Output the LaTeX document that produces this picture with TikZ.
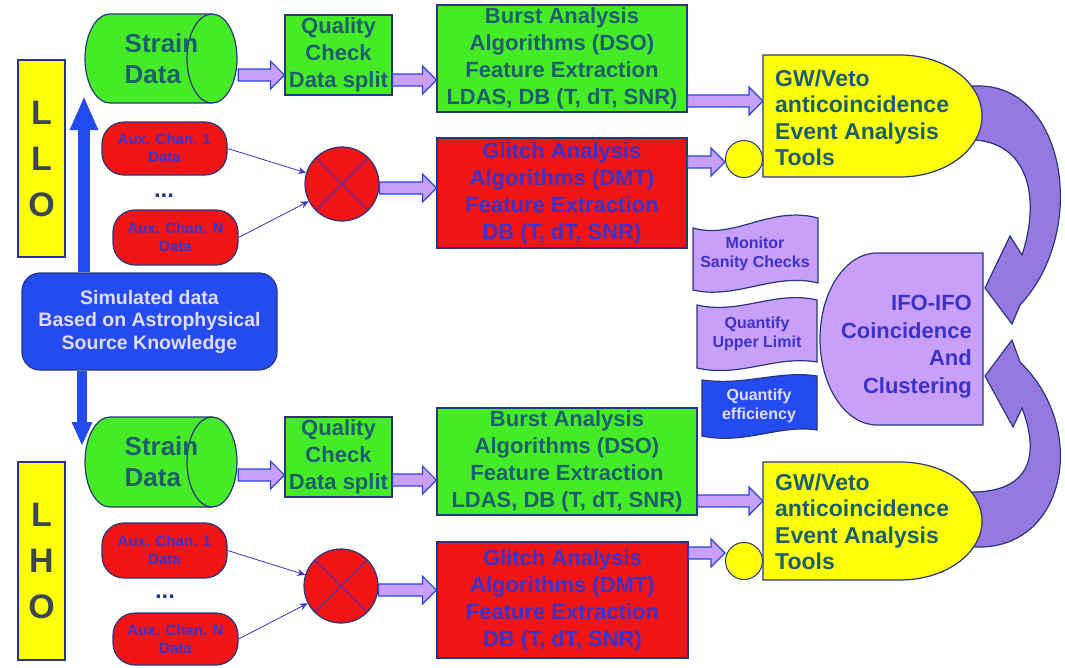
\documentclass[tikz,border=0pt]{standalone}
\usepackage{fontspec}
\setmainfont{Liberation Sans}
\usetikzlibrary{arrows.meta,calc}
\definecolor{limegreen}{RGB}{70,235,40}
\definecolor{brightred}{RGB}{240,20,20}
\definecolor{lemon}{RGB}{255,255,10}
\definecolor{lav}{RGB}{200,160,250}
\definecolor{curvepurple}{RGB}{150,120,225}
\definecolor{sblue}{RGB}{35,75,240}
\definecolor{edgeblue}{RGB}{40,55,125}
\definecolor{arrowblue}{RGB}{40,70,220}
\definecolor{tealtext}{RGB}{30,95,110}
\definecolor{deepblue}{RGB}{60,50,200}
\definecolor{slate}{RGB}{60,70,80}
\definecolor{palelav}{RGB}{225,220,255}
\tikzset{
  box/.style={draw=edgeblue, line width=1.2pt, rectangle, inner sep=0pt, align=center,
    font=\bfseries\fontsize{22}{27}\selectfont},
  greenbox/.style={box, fill=limegreen, text=tealtext},
  redbox/.style={box, fill=brightred, text=deepblue},
  sitebox/.style={box, fill=lemon, text=slate, font=\bfseries\fontsize{34}{46}\selectfont},
  cylbody/.style={draw=edgeblue, line width=1.2pt, fill=limegreen},
  cyltext/.style={inner sep=0pt, align=left, text=tealtext, font=\bfseries\fontsize{26}{31}\selectfont},
  auxoval/.style={draw=edgeblue, line width=1.2pt, fill=brightred, rounded corners=22pt,
    minimum width=125pt, text=deepblue, align=center, font=\bfseries\fontsize{15}{18}\selectfont},
  sumnode/.style={circle, draw=edgeblue, line width=1.2pt, fill=brightred, minimum size=74pt,
    path picture={\draw[deepblue, line width=0.8pt]
      (path picture bounding box.north west) -- (path picture bounding box.south east)
      (path picture bounding box.north east) -- (path picture bounding box.south west);}},
  dotnode/.style={circle, draw=edgeblue, line width=1pt, fill=lemon, minimum size=37pt, inner sep=0pt},
  gwshape/.style={draw=edgeblue, line width=1.2pt, fill=lemon},
  gwtext/.style={inner xsep=12pt, inner ysep=0pt, align=left, text=tealtext,
    font=\bfseries\fontsize{23}{26.5}\selectfont},
  simbox/.style={draw=edgeblue, line width=1.2pt, fill=sblue, rounded corners=18pt,
    minimum width=255pt, minimum height=97pt, align=center, text=palelav,
    font=\bfseries\fontsize{19.5}{22.5}\selectfont},
  wavebox/.style={draw=edgeblue, line width=1.2pt, fill=lav},
  wavetext/.style={align=center, text=deepblue, font=\bfseries\fontsize{16}{19}\selectfont},
  ifotext/.style={inner sep=0pt, align=right, text=deepblue, font=\bfseries\fontsize{22}{27.5}\selectfont},
  curvearrow/.style={draw=edgeblue, line width=1.2pt, fill=curvepurple},
  bluearrow/.style={draw=sblue, line width=12pt, -{Triangle[width=26pt, length=34pt]}},
  thinarrow/.style={draw=deepblue, line width=0.8pt, -{Stealth[length=8pt, width=7pt]}},
  dotsfont/.style={text=edgeblue, font=\bfseries\fontsize{24}{24}\selectfont},
  fatarrow/.style={draw=arrowblue, line width=1.2pt, fill=lav,
    to path={let \p1=(\tikztostart), \p2=(\tikztotarget) in
      (\x1,\y1+6pt) -- (\x2-14pt,\y1+6pt) -- (\x2-14pt,\y1+14pt) -- (\x2,\y1)
      -- (\x2-14pt,\y1-14pt) -- (\x2-14pt,\y1-6pt) -- (\x1,\y1-6pt) -- cycle}},
}
\begin{document}
\begin{tikzpicture}[x=1pt, y=-1pt]
  \useasboundingbox (0,0) rectangle (1065,667);
  \fill[white] (0,0) rectangle (1065,667);

  % curved purple arrows into the coincidence stage
  \filldraw[curvearrow] (962,86) -- (976,86) .. controls (1065,83) and (1090,230) .. (1020,305)
    -- (1012,324) -- (985,288) -- (1010,236) -- (1022,255)
    .. controls (1040,200) and (1030,145) .. (976,140) -- (962,140) -- cycle;
  \filldraw[curvearrow] (962,547) -- (976,547) .. controls (1065,550) and (1090,430) .. (1020,362)
    -- (1012,340) -- (985,376) -- (1013,427) -- (1022,408)
    .. controls (1040,455) and (1030,490) .. (976,492) -- (962,492) -- cycle;

  % LLO
  \node[sitebox, minimum width=47pt, minimum height=197pt] (llo) at (41.5,158.5) {L\\L\\O};
  \filldraw[cylbody] (212,14) -- (110,14) arc[start angle=90, end angle=270, x radius=25pt, y radius=44.5pt] -- (212,103) -- cycle;
  \filldraw[cylbody] (212,58.5) ellipse[x radius=25pt, y radius=44.5pt];
  \node[cyltext, minimum width=153pt, minimum height=89pt] (strainA) at (161.5,58.5) {Strain\\Data};
  \node[greenbox, minimum width=107pt, minimum height=80pt] (qualA) at (338.5,55) {Quality\\Check\\Data split};
  \node[greenbox, minimum width=250pt, minimum height=107pt] (burstA) at (562,58.5)
    {Burst Analysis\\Algorithms (DSO)\\Feature Extraction\\LDAS, DB (T, dT, SNR)};
  \node[auxoval, minimum height=53pt] (auxA1) at (164.5,148.5) {Aux. Chan. 1\\Data};
  \node[dotsfont] (dotsA) at (164,196) {...};
  \node[auxoval, minimum height=55pt] (auxA2) at (175.5,237.5) {Aux. Chan. N\\Data};
  \node[sumnode] (sumA) at (342,184) {};
  \node[redbox, minimum width=250pt, minimum height=110pt] (glitchA) at (562,193)
    {Glitch Analysis\\Algorithms (DMT)\\Feature Extraction\\DB (T, dT, SNR)};
  \filldraw[gwshape] (763,55) -- (900,55) arc[start angle=90, end angle=-90, x radius=82pt, y radius=61pt] -- (763,177) -- cycle;
  \node[gwtext, anchor=west] (gwA) at (763,118) {GW/Veto\\anticoincidence\\Event Analysis\\Tools};
  \node[dotnode] (dotA) at (744,159) {};

  \draw[fatarrow] (strainA.east |- 0,75) to (qualA.west);
  \draw[fatarrow] (qualA.east |- 0,80) to (burstA.west);
  \draw[fatarrow] (burstA.east |- 0,101) to (gwA.west);
  \draw[fatarrow] (sumA.east |- 0,188) to (glitchA.west);
  \draw[fatarrow] (glitchA.east |- 0,162) to (dotA.west);
  \draw[thinarrow] (auxA1.east) -- (sumA);
  \draw[thinarrow] (auxA2.east) -- (sumA);

  % simulated data feeding both sites
  \node[simbox] (simdata) at (149.5,321.5) {Simulated data\\Based on Astrophysical\\Source Knowledge};
  \coordinate (upTip) at (84,96);
  \coordinate (downTip) at (82,446);
  \draw[bluearrow] (simdata.north -| upTip) -- (upTip);
  \draw[bluearrow, line width=10pt, -{Triangle[width=19pt, length=24pt]}] (simdata.south -| downTip) -- (downTip);

  % LHO
  \node[sitebox, minimum width=47pt, minimum height=198pt] (lho) at (41.5,561) {L\\H\\O};
  \filldraw[cylbody] (212,417) -- (110,417) arc[start angle=90, end angle=270, x radius=25pt, y radius=45pt] -- (212,507) -- cycle;
  \filldraw[cylbody] (212,462) ellipse[x radius=25pt, y radius=45pt];
  \node[cyltext, minimum width=153pt, minimum height=90pt] (strainB) at (161.5,462) {Strain\\Data};
  \node[greenbox, minimum width=107pt, minimum height=80pt] (qualB) at (338.5,457) {Quality\\Check\\Data split};
  \node[greenbox, minimum width=260pt, minimum height=107pt] (burstB) at (567,461.5)
    {Burst Analysis\\Algorithms (DSO)\\Feature Extraction\\LDAS, DB (T, dT, SNR)};
  \node[auxoval, minimum height=55pt] (auxB1) at (164.5,550.5) {Aux. Chan. 1\\Data};
  \node[dotsfont] (dotsB) at (165,597) {...};
  \node[auxoval, minimum height=52pt] (auxB2) at (175.5,639) {Aux. Chan. N\\Data};
  \node[sumnode] (sumB) at (341,586) {};
  \node[redbox, minimum width=251pt, minimum height=116pt] (glitchB) at (562.5,600)
    {Glitch Analysis\\Algorithms (DMT)\\Feature Extraction\\DB (T, dT, SNR)};
  \filldraw[gwshape] (763,462) -- (900,462) arc[start angle=90, end angle=-90, x radius=82pt, y radius=59pt] -- (763,580) -- cycle;
  \node[gwtext, anchor=west] (gwB) at (763,522) {GW/Veto\\anticoincidence\\Event Analysis\\Tools};
  \node[dotnode] (dotB) at (744,561) {};

  \draw[fatarrow] (strainB.east |- 0,475) to (qualB.west);
  \draw[fatarrow] (qualB.east |- 0,480) to (burstB.west);
  \draw[fatarrow] (burstB.east |- 0,501) to (gwB.west);
  \draw[fatarrow] (sumB.east |- 0,590) to (glitchB.west);
  \draw[fatarrow] (glitchB.east |- 0,553) to (dotB.west);
  \draw[thinarrow] (auxB1.east) -- (sumB);
  \draw[thinarrow] (auxB2.east) -- (sumB);

  % checks and coincidence
  \filldraw[wavebox] (693,228) .. controls (735,240) and (770,205) .. (818,218) -- (818,283)
    .. controls (775,272) and (735,300) .. (693,290) -- cycle;
  \node[wavetext] (monitor) at (755,254) {Monitor\\Sanity Checks};
  \filldraw[wavebox] (697,305) .. controls (740,315) and (775,290) .. (817,300) -- (817,362)
    .. controls (775,355) and (740,378) .. (697,368) -- cycle;
  \node[wavetext] (upper) at (757,334) {Quantify\\Upper Limit};
  \filldraw[wavebox, fill=sblue] (702,380) .. controls (745,386) and (780,370) .. (817,376) -- (817,430)
    .. controls (780,424) and (745,445) .. (702,436) -- cycle;
  \node[wavetext, text=palelav] (effic) at (759,406) {Quantify\\efficiency};
  \filldraw[wavebox] (983,253) -- (877,253) arc[start angle=90, end angle=270, x radius=57pt, y radius=86pt] -- (983,425) -- cycle;
  \node[ifotext, anchor=east] (ifo) at (972,346.5) {IFO-IFO\\Coincidence\\And\\Clustering};
\end{tikzpicture}
\end{document}
